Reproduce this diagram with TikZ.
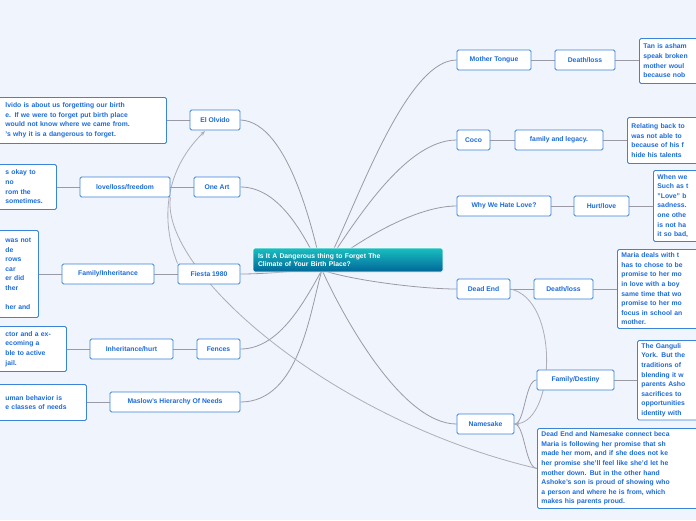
\documentclass[tikz,border=0pt]{standalone}
\usepackage{fontspec}
\setmainfont{Liberation Sans}
\usetikzlibrary{arrows.meta}
\pgfdeclarelayer{back}\pgfsetlayers{back,main}
\definecolor{bg}{HTML}{F0F4FC}
\definecolor{tb}{HTML}{1C6BD6}
\definecolor{bd}{HTML}{3A84DA}
\definecolor{ln}{HTML}{9A9AA6}
\tikzset{
 box/.style={draw=bd,line width=0.9pt,fill=white,rounded corners=1.5pt,text=tb,font=\bfseries\fontsize{6.8}{9.6}\selectfont,inner sep=0pt,align=center},
 txt/.style={box,align=left,anchor=north west,inner sep=3pt},
 con/.style={draw=ln,line width=0.8pt},
 lk/.style={draw=ln!80,line width=0.8pt}
}
\newcommand{\bx}[6]{\node[box,minimum width=#4-#2,minimum height=#5-#3] (#1) at ({(#2+#4)/2},{(#3+#5)/2}) {#6};}
\begin{document}
\begin{tikzpicture}[x=1pt,y=-1pt]
\useasboundingbox (0,0) rectangle (696,520);
\clip (0,0) rectangle (696,520);
\begin{pgfonlayer}{back}
\fill[bg] (0,0) rectangle (696,520);
\end{pgfonlayer}
% center
\node[rounded corners=1.5pt,draw=white,line width=0.8pt,top color=cyan!45!teal!90!white,bottom color=teal!80!blue,minimum width=190,minimum height=24,text=white,font=\bfseries\fontsize{6.8}{8.5}\selectfont,align=left,text width=180] (c) at (348,260) {Is It A Dangerous thing to Forget The\\Climate of Your Birth Place?};
% left main
\bx{eo}{190}{110}{240}{130}{El Olvido}
\bx{oa}{194}{177}{240}{197}{One Art}
\bx{fi}{178}{264}{240}{284}{Fiesta 1980}
\bx{fe}{197}{339}{240}{359}{Fences}
\bx{ma}{110}{392}{240}{412}{Maslow's Hierarchy Of Needs}
\bx{ll}{80}{177}{170}{197}{love/loss/freedom}
\bx{fin}{62}{264}{154}{284}{Family/Inheritance}
\bx{ih}{90}{339}{173}{359}{Inheritance/hurt}
% left text boxes
\node[txt,minimum width=176,minimum height=46,text width=168] (t1) at (-10,97) {\hspace{11pt}lvido is about us forgetting our birth\\\hspace{11pt}e. If we were to forget put birth place\\\hspace{11pt}would not know where we came from.\\\hspace{11pt}'s why it is a dangerous to forget.};
\node[txt,minimum width=66,minimum height=45,text width=58] (t2) at (-10,164) {\hspace{11pt}s okay to\\\hspace{11pt}no\\\hspace{11pt}rom the\\\hspace{11pt}sometimes.};
\node[txt,minimum width=48,minimum height=87,text width=40] (t3) at (-10,230) {\hspace{11pt}was not\\\hspace{11pt}de\\\hspace{11pt}rows\\\hspace{11pt}car\\\hspace{11pt}er did\\\hspace{11pt}ther\\\mbox{}\\\hspace{11pt}her and};
\node[txt,minimum width=76,minimum height=45,text width=68] (t4) at (-10,326) {\hspace{11pt}ctor and a ex-\\\hspace{11pt}ecoming a\\\hspace{11pt}ble to active\\\hspace{11pt}jail.};
\node[txt,minimum width=96,minimum height=36,text width=88] (t5) at (-10,384) {\hspace{11pt}uman behavior is\\\hspace{11pt}e classes of needs};
% right main
\bx{mt}{457}{50}{531}{70}{Mother Tongue}
\bx{co}{457}{130}{490}{150}{Coco}
\bx{wh}{457}{196}{551}{216}{Why We Hate Love?}
\bx{de}{457}{279}{510}{299}{Dead End}
\bx{na}{457}{414}{514}{434}{Namesake}
\bx{dl1}{555}{50}{615}{70}{Death/loss}
\bx{fl}{515}{130}{603}{150}{family and legacy.}
\bx{hl}{574}{196}{629}{216}{Hurt/love}
\bx{dl2}{534}{279}{593}{299}{Death/loss}
\bx{fd}{537}{370}{614}{390}{Family/Destiny}
% right texts
\node[txt,minimum width=80,minimum height=45,text width=72] (r1) at (639,38) {Tan is asham\\speak broken\\mother woul\\because nob};
\node[txt,minimum width=90,minimum height=46,text width=82] (r2) at (627,117) {Relating back to\\was not able to\\because of his f\\hide his talents};
\node[txt,minimum width=60,minimum height=71,text width=52] (r3) at (653,170) {When we\\Such as t\\"Love" b\\sadness.\\one othe\\is not ha\\it so bad,};
\node[txt,minimum width=100,minimum height=79,text width=92] (r4) at (617,249) {Maria deals with t\\has to chose to be\\promise to her mo\\in love with a boy\\same time that wo\\promise to her mo\\focus in school an\\mother.};
\node[txt,minimum width=80,minimum height=79,text width=72] (r5) at (637,340) {The Ganguli\\York. But the\\traditions of\\blending it w\\parents Asho\\sacrifices to\\opportunities\\identity with};
\node[txt,minimum width=170,minimum height=80,text width=162] (r6) at (537,428) {Dead End and Namesake connect beca\\Maria is following her promise that sh\\made her mom, and if she does not ke\\her promise she'll feel like she'd let he\\mother down. But in the other hand\\Ashoke's son is proud of showing who\\a person and where he is from, which\\makes his parents proud.};
\begin{pgfonlayer}{back}
\coordinate (cl) at (322,270);
\coordinate (cr) at (322,270);
\draw[con] (cl) .. controls (315,240) and (290,122) .. (eo.east);
\draw[con] (cl) .. controls (310,250) and (285,187) .. (oa.east);
\draw[con] (cl) .. controls (300,270) and (270,274) .. (fi.east);
\draw[con] (cl) .. controls (305,300) and (280,349) .. (fe.east);
\draw[con] (cl) .. controls (310,310) and (300,402) .. (ma.east);
\draw[con] (cr) .. controls (345,240) and (400,60) .. (mt.west);
\draw[con] (cr) .. controls (345,240) and (400,140) .. (co.west);
\draw[con] (cr) .. controls (345,250) and (410,206) .. (wh.west);
\draw[con] (cr) .. controls (350,280) and (420,289) .. (de.west);
\draw[con] (cr) .. controls (340,310) and (400,424) .. (na.west);
% branch lines
\draw[con] (eo.west) -- (t1.east|-eo.west);
\draw[con] (oa.west) -- (ll.east); \draw[con] (ll.west) -- (t2.east|-ll.west);
\draw[con] (fi.west) -- (fin.east); \draw[con] (fin.west) -- (t3.east|-fin.west);
\draw[con] (fe.west) -- (ih.east); \draw[con] (ih.west) -- (t4.east|-ih.west);
\draw[con] (ma.west) -- (t5.east|-ma.west);
\draw[con] (mt.east) -- (dl1.west); \draw[con] (dl1.east) -- (r1.west|-dl1.east);
\draw[con] (co.east) -- (fl.west); \draw[con] (fl.east) -- (r2.west|-fl.east);
\draw[con] (wh.east) -- (hl.west); \draw[con] (hl.east) -- (r3.west|-hl.east);
\draw[con] (de.east) -- (dl2.west); \draw[con] (dl2.east) -- (r4.west|-dl2.east);
\draw[con] (fd.east) -- (r5.west|-fd.east);
\draw[con] (na.east) .. controls (525,424) and (525,380) .. (fd.west);
\draw[con] (na.east) .. controls (525,424) and (525,468) .. (r6.west);
% cross links
\draw[lk,-{Stealth[length=5pt]}] (fi.north west) .. controls (160,220) and (165,170) .. (205,131);
\draw[lk] (ll.south east) .. controls (160,270) and (330,420) .. (r6.west);
\draw[lk,-{Stealth[length=5pt]}] (de.east) .. controls (560,300) and (555,420) .. (na.east);
\end{pgfonlayer}
\end{tikzpicture}
\end{document}
